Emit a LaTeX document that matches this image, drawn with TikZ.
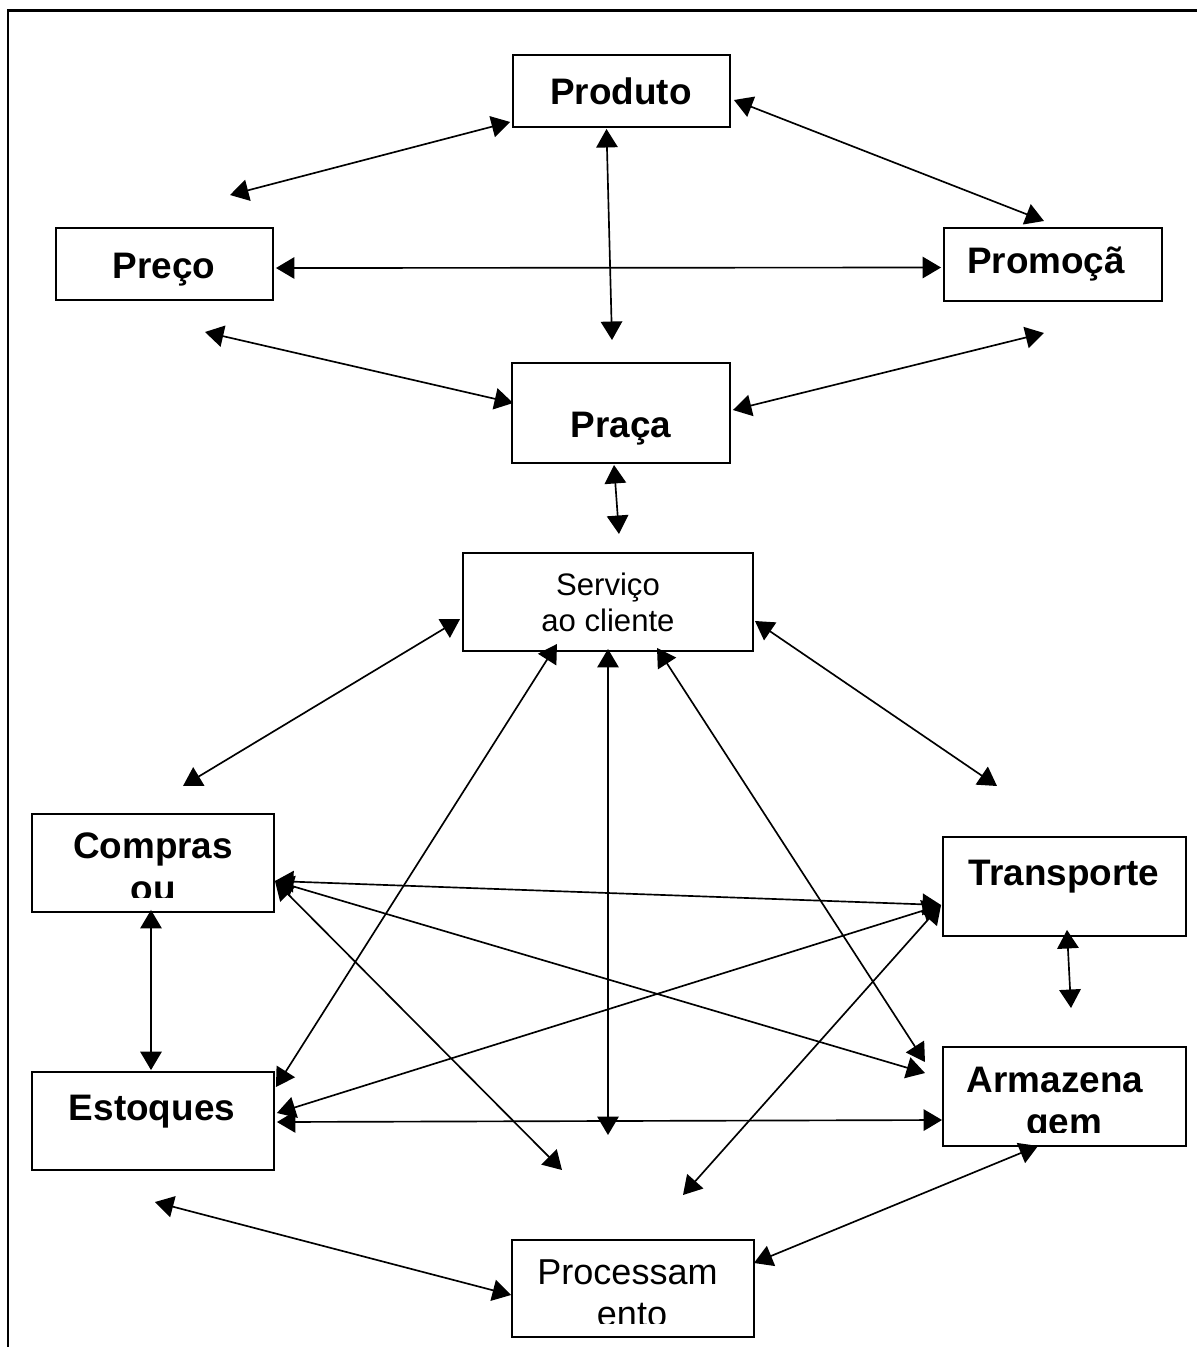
\documentclass[tikz,border=0pt]{standalone}
\usepackage{fontspec}
\setmainfont{Liberation Sans}
\usepackage{tikz}
\usetikzlibrary{arrows.meta, calc}

\tikzset{
    box/.style={draw, line width=1.1pt, inner sep=0pt},
    boldtxt/.style={font=\fontsize{21}{24}\selectfont\bfseries, inner sep=0pt, anchor=base},
    plaintxt/.style={font=\fontsize{20.5}{23.6}\selectfont, inner sep=0pt, anchor=base},
    dbl/.style={{Triangle[length=0.37cm,width=0.43cm]}-{Triangle[length=0.37cm,width=0.43cm]}, line width=0.95pt}
}

\begin{document}
\begin{tikzpicture}[x=0.02cm, y=-0.02cm]
    \useasboundingbox (0,0) rectangle (1197,1347);
    % Outer frame (cut off at right and bottom)
    \draw[line width=1.7pt] (8,1347) -- (8,10) -- (1197,10);

    % Marketing mix boxes
    \node[box, minimum width=4.34cm, minimum height=1.44cm] (produto) at (621.5,91) {};
    \node[boldtxt] (produto-t) at (621,104) {Produto};
    \node[box, minimum width=4.34cm, minimum height=1.44cm] (preco) at (164.5,264) {};
    \node[boldtxt] (preco-t) at (164,278) {Preço};
    \node[box, minimum width=4.36cm, minimum height=1.46cm] (promocao) at (1053,264.5) {};
    \node[boldtxt] (promocao-t) at (1046,273) {Promoçã};
    \node[box, minimum width=4.36cm, minimum height=2.0cm] (praca) at (621,413) {};
    \node[boldtxt] (praca-t) at (621,437) {Praça};

    % Customer service
    \node[box, minimum width=5.8cm, minimum height=1.96cm, align=center,
          font=\fontsize{17.7}{20.4}\selectfont] (servico) at (608,602) {Serviço\\ao cliente};

    % Logistics boxes
    \node[box, minimum width=4.84cm, minimum height=1.96cm] (compras) at (153,863) {};
    \node[box, minimum width=4.86cm, minimum height=1.98cm] (transporte) at (1064.5,886.5) {};
    \node[boldtxt] (transporte-t) at (1064,885) {Transporte};
    \node[box, minimum width=4.84cm, minimum height=1.96cm] (estoques) at (153,1121) {};
    \node[boldtxt] (estoques-t) at (152,1120) {Estoques};
    \node[box, minimum width=4.86cm, minimum height=1.98cm] (armazenagem) at (1064.5,1096.5) {};
    \node[box, minimum width=4.84cm, minimum height=1.94cm] (processamento) at (633,1288.5) {};

    % Texts that run past the bottom of their box
    \begin{scope}
        \clip (33,815) rectangle (273,897);
        \node[boldtxt] (compras-t) at (153,858.5) {Compras};
        \node[boldtxt] (compras-t2) at (153,901) {ou};
    \end{scope}
    \begin{scope}
        \clip (944,1048) rectangle (1185,1132);
        \node[boldtxt] (armazenagem-t) at (1055,1092) {Armazena};
        \node[boldtxt] (armazenagem-t2) at (1064,1134.5) {gem};
    \end{scope}
    \begin{scope}
        \clip (513,1241) rectangle (753,1323);
        \node[plaintxt] (processamento-t) at (627.5,1284) {Processam};
        \node[plaintxt] (processamento-t2) at (632,1326) {ento};
    \end{scope}

    % Loose arrow ends
    \coordinate (c1) at (230,195);
    \coordinate (c2) at (612,340);
    \coordinate (c3) at (1044,221);
    \coordinate (c4) at (205,332);
    \coordinate (c5) at (1044,333);
    \coordinate (c6) at (619,534);
    \coordinate (c7) at (183,786);
    \coordinate (c8) at (608,1135);
    \coordinate (c9) at (925,1062);
    \coordinate (c10) at (997,786);
    \coordinate (c11) at (925,1073);
    \coordinate (c12) at (562,1170);
    \coordinate (c13) at (683,1195);
    \coordinate (c14) at (1071,1008);
    \coordinate (c15) at (155,1202);

    % Upper arrows
    \draw[dbl] (c1) -- ($(produto.south west)+(-2,-6)$);
    \draw[dbl] ($(produto.south)+(-15,1)$) -- (c2);
    \draw[dbl] ($(produto.east)+(3,9)$) -- (c3);
    \draw[dbl] ($(preco.east)+(2,4)$) -- ($(promocao.west)+(-2,3)$);
    \draw[dbl] (c4) -- ($(praca.west)+(2,-10)$);
    \draw[dbl] (c5) -- ($(praca.east)+(2,-3)$);
    \draw[dbl] ($(praca.south)+(-7,1)$) -- (c6);

    % Arrows around customer service
    \draw[dbl] ($(servico.west)+(-2,17)$) -- (c7);
    \draw[dbl] ($(servico.south)+(-51,-8)$) -- ($(estoques.east)+(1,-34)$);
    \draw[dbl] ($(servico.south)+(0,-3)$) -- (c8);
    \draw[dbl] ($(servico.south)+(49,-4)$) -- (c9);
    \draw[dbl] ($(servico.east)+(1,19)$) -- (c10);

    % Lower arrows
    \draw[dbl] ($(compras.south)+(-2,-3)$) -- ($(estoques.north)+(-2,-1)$);
    \draw[dbl] ($(compras.east)+(0,18)$) -- ($(transporte.west)+(-1,18.5)$);
    \draw[dbl] ($(compras.east)+(0,18)$) -- (c11);
    \draw[dbl] ($(compras.east)+(0,18)$) -- (c12);
    \draw[dbl] ($(estoques.east)+(2,-8)$) -- ($(transporte.west)+(-1,18.5)$);
    \draw[dbl] (c13) -- ($(transporte.west)+(-1,18.5)$);
    \draw[dbl] ($(transporte.south)+(2.5,-7)$) -- (c14);
    \draw[dbl] ($(estoques.east)+(2,1)$) -- ($(armazenagem.west)+(0,23.5)$);
    \draw[dbl] (c15) -- ($(processamento.west)+(0,6.5)$);
    \draw[dbl] ($(armazenagem.south)+(-26.5,-1)$) -- ($(processamento.east)+(-1,-25.5)$);
\end{tikzpicture}
\end{document}
